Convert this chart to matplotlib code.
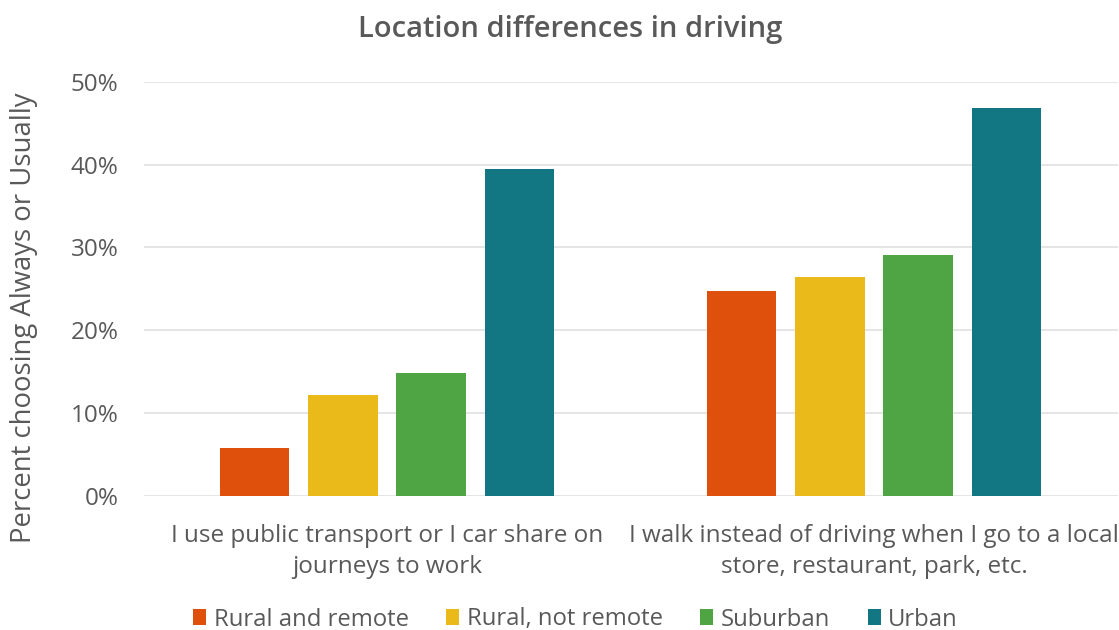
import numpy as np
import matplotlib.pyplot as plt
from matplotlib.ticker import PercentFormatter

plt.rcParams['font.family'] = ['Open Sans', 'DejaVu Sans']

categories = ["I use public transport or I car share on\njourneys to work",
              "I walk instead of driving when I go to a local\nstore, restaurant, park, etc."]
series = ["Rural and remote", "Rural, not remote", "Suburban", "Urban"]
values = {
    "Rural and remote": [5.8, 24.7],
    "Rural, not remote": [12.2, 26.4],
    "Suburban": [14.8, 29.1],
    "Urban": [39.5, 46.8],
}
colors = ["#DE500C", "#EABA1B", "#4FA444", "#127783"]

grey = "#595959"

fig = plt.figure(figsize=(11.19, 6.30), dpi=100)
ax = fig.add_axes([143.5 / 1119, 1 - 496 / 630, 974 / 1119, (496 - 81.7) / 630])

x = np.arange(len(categories))
pitch = 0.1813
width = 0.1423
for i, s in enumerate(series):
    off = (i - 1.5) * pitch
    ax.bar(x + off, values[s], width, color=colors[i], label=s, zorder=3)

ax.set_xlim(-0.5, 1.5)
ax.set_ylim(0, 50)
ax.set_yticks(np.arange(0, 51, 10))
ax.yaxis.set_major_formatter(PercentFormatter(decimals=0))
ax.grid(axis='y', color='#E3E3E3', linewidth=1.3, zorder=0)
for sp in ax.spines.values():
    sp.set_visible(False)
ax.tick_params(axis='both', length=0, colors=grey, labelsize=17.5)
ax.tick_params(axis='y', pad=18)
ax.tick_params(axis='x', pad=20)
ax.set_xticks(x)
ax.set_xticklabels(categories, linespacing=1.4)

ax.set_ylabel("Percent choosing Always or Usually", color=grey, fontsize=19.8)
ax.yaxis.set_label_coords(-105 / 974, 0.43)
fig.text(570 / 1119, 1 - 30 / 630, "Location differences in driving", ha='center', va='center',
         fontsize=21, fontweight='semibold', color=grey)

leg = fig.legend(loc='center', bbox_to_anchor=(0.5143, 1 - 619.5 / 630), ncol=4, frameon=False,
                 fontsize=17.2, handlelength=0.55, handleheight=0.65, handletextpad=0.3,
                 columnspacing=1.58, borderpad=0.1)
for t in leg.get_texts():
    t.set_color(grey)

fig.savefig("out.png", dpi=100)
